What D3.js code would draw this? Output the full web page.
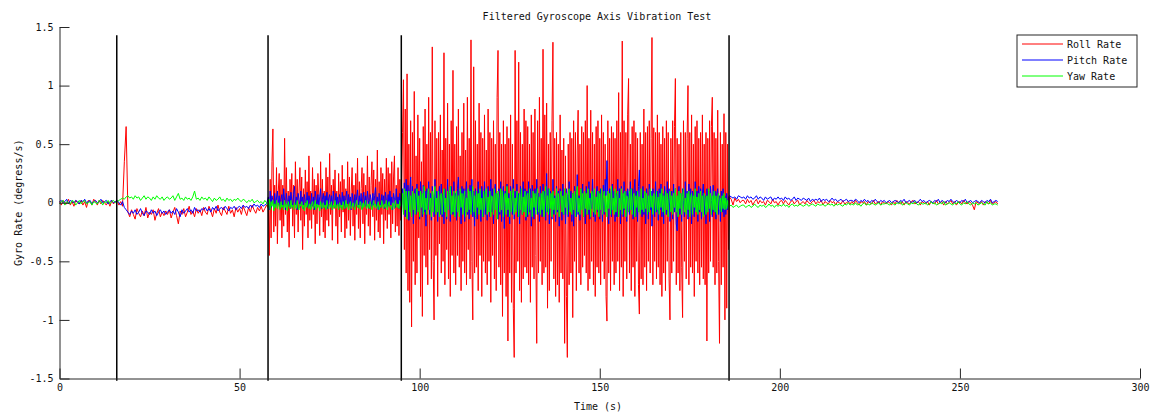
<!DOCTYPE html>
<html>
<head>
<meta charset="utf-8">
<script src="https://cdn.jsdelivr.net/npm/d3@7"></script>
<style>
  body { margin: 0; background: #fff; }
  svg { display: block; }
</style>
</head>
<body>
<svg id="chart" width="1158" height="416"></svg>
<script>
// Logging segments: [start s, end s, step s]. The vibration phases are logged at a finer step.
const sampleSegments = [[0, 58, 0.5], [58, 186, 0.25], [186, 261, 0.5]];

// Roll rate (deg/s)
const rollRate = [
  // 0 - 57.5 s, 0.5 s step
  .01,-.02,.02,0,-.01,.03,-.02,.01,-.03,.02,0,-.01,.02,-.02,.01,-.04,.02,.01,-.02,.03,
  .01,-.02,.02,-.01,.02,0,-.02,.01,-.03,.02,-.01,.01,.02,-.02,.01,-.03,.35,.65,-.08,-.12,
  -.06,-.1,-.14,-.05,-.09,-.12,-.07,-.11,-.04,-.13,-.08,-.1,-.06,-.15,-.09,-.05,-.12,-.08,-.11,-.07,
  -.1,-.06,-.13,-.08,-.04,-.11,-.18,-.07,-.1,-.05,-.12,-.08,-.03,-.1,-.07,-.12,-.05,-.09,-.06,-.11,
  -.04,-.08,-.1,-.03,-.07,-.12,-.05,-.09,-.02,-.08,-.11,-.04,-.07,-.1,-.03,-.09,-.06,-.12,-.04,-.08,
  -.05,-.1,-.03,-.07,-.11,-.04,-.08,-.02,-.06,-.09,-.04,-.07,-.03,-.08,-.05,-.02,
  // 58 - 185.75 s, 0.25 s step
  -.05,-.45,.2,-.3,.35,.63,-.25,.15,-.2,.3,-.35,.1,.25,-.15,.2,-.3,
  .15,-.2,.55,-.1,.3,-.25,.1,-.38,.2,-.05,.25,-.2,.15,-.3,.35,-.1,
  .2,-.25,.1,.3,-.15,.22,-.4,.12,-.2,.28,-.1,.18,-.3,.4,-.15,.1,
  -.22,.3,-.1,.2,-.35,.15,-.18,.25,.05,-.28,.35,-.12,.2,-.25,.1,-.3,
  .3,-.15,.22,-.2,.42,-.1,.15,-.32,.2,-.05,.28,-.2,.1,-.35,.25,-.12,
  .18,-.25,.32,-.08,.2,-.3,.12,-.22,.35,-.15,.22,-.28,.1,.3,-.2,.15,
  -.32,.25,-.1,.38,-.22,.18,-.3,.12,.3,-.18,.25,-.35,.15,-.1,.4,-.2,
  .22,-.28,.15,.35,-.12,.28,-.32,.2,-.15,.45,-.25,.18,-.3,.3,-.1,.25,
  -.35,.2,-.15,.38,-.22,.3,-.1,.25,-.3,.35,-.18,.22,.4,-.25,.15,-.2,
  .3,-.28,.2,-.15,.1,.6,1.05,-.4,.8,-.6,1.1,-.75,.5,-.85,.7,-1.06,
  .6,-.5,.95,-.7,.4,-.6,.75,-.3,.55,-.8,.35,-.97,.65,-.45,.8,-.55,
  .5,-.7,.9,-.4,.6,-.65,1.33,-.5,-1.0,.7,-.45,.55,-.8,.6,-.35,.75,
  -.6,.45,-.5,1.28,-.7,.55,-.4,.85,-.65,.5,-.8,.7,-.45,1.13,-.6,.5,
  -.7,.65,-.45,.8,-.55,.4,-.75,.6,-.5,.85,-.6,.45,-.7,.9,-.4,.55,
  -.65,1.39,-.5,-1.0,1.16,-.6,.7,-.55,.5,-.75,.85,-.45,.6,-.8,.55,-.5,
  .75,-.6,.45,-.7,.8,-.5,.6,-.85,.55,-.45,.7,-.65,.5,-.75,.9,1.3,
  -.55,.6,-.7,.5,-.97,.7,-.6,.5,-.8,.65,-1.18,.55,-.6,.75,-.85,.5,
  -.9,-1.32,1.3,-.6,.7,-.5,1.2,-.75,.6,-.85,.5,-.65,.8,-.55,.7,-.6,
  .65,-.7,.5,-.85,.75,-.55,.6,-.65,.8,-.45,-1.2,.7,-.6,.9,-.5,.55,
  -.7,1.31,-.6,.75,-.55,.85,-.9,.5,-.75,.6,-.5,.7,1.37,-.65,.55,-.8,
  .6,-.7,.5,-.85,.75,-.6,.45,-.65,.55,-1.2,.4,-.8,-1.32,.5,-.7,.6,
  -.6,.55,-.98,.7,-.5,.6,-.75,.45,.79,-.6,.5,-.7,.65,-.55,.6,-.45,
  .7,-.6,1.0,-.75,.55,-.65,.79,-.5,.6,-.7,.5,-.8,.65,-.55,.7,-.6,
  .55,-.7,.75,-.5,.6,-.65,.5,-.8,-1.01,.7,-.6,.55,-.75,.65,-.5,.6,
  -.7,.55,-.6,.7,-.5,.94,-.75,.6,-.55,1.38,-.8,.7,-.5,.6,-.65,.75,
  1.06,-.6,.5,-.75,.65,-.55,.7,-.8,.6,-.5,.55,-.7,-.95,.6,-.65,.5,
  -.7,.8,-.55,.6,-.75,.65,-.5,.7,-.6,.55,1.41,-.7,.64,-.5,.6,-.65,
  .75,-.55,.6,-.7,.5,-.8,.65,-.6,.55,-.75,.7,-.5,.6,-.65,-1.0,.55,
  -.6,.7,-.5,.65,1.06,-.7,.55,-.6,.5,-.75,.6,-.55,-.98,.7,-.5,.6,
  -.65,.55,1.0,-.7,.6,-.55,.75,-.6,.5,-.8,.65,-.5,.7,-.6,.55,-.7,
  .6,-.55,.75,-.65,.5,-.7,.6,-1.18,.55,-.6,.7,-.5,.65,.9,-.55,.6,
  -.7,.55,-.6,.79,-.5,-1.2,.6,-.7,.5,-.55,.76,-1.0,.6,-.9,.5,-.4,
  // 186 - 260.5 s, 0.5 s step
  .05,.03,-.02,.04,.01,.03,0,.02,
  .02,-.01,.03,0,.02,-.02,.01,.03,-.01,.02,0,.01,-.02,.02,.01,-.01,.03,0,.01,-.02,
  .01,.02,-.01,.02,0,-.02,.01,.02,-.01,.01,.02,-.02,0,.01,-.01,.02,0,-.01,.01,.02,
  -.01,.01,0,.02,-.02,.01,0,-.01,.02,0,.01,-.02,.01,0,-.01,.02,-.01,0,.01,-.01,
  .01,-.01,.02,0,-.02,.01,0,.01,-.02,.01,0,-.01,.02,-.01,0,.01,-.02,.01,0,-.01,
  .01,0,-.02,.01,-.01,.02,0,-.01,.01,-.02,.01,0,-.01,.01,.02,-.01,0,.01,-.02,.01,
  0,-.01,.01,-.02,.01,0,-.01,.02,-.01,0,.01,-.02,.01,-.01,0,.02,-.01,.01,-.02,0,
  .01,-.01,.02,0,-.01,.01,0,-.02,-.06,.01,0,-.01,.01,-.02,.01,0,-.01,.02,-.01,0,
  .01,-.01
];

// Pitch rate (deg/s)
const pitchRate = [
  // 0 - 57.5 s
  .01,.02,0,.01,.03,-.01,.02,.01,0,.02,.01,-.01,.02,.01,.03,0,.01,.02,-.01,.01,
  .02,0,.01,.03,0,.01,.02,-.01,.01,.02,0,.01,.02,0,-.02,.01,-.04,-.06,-.08,-.1,
  -.07,-.09,-.06,-.1,-.08,-.05,-.09,-.11,-.07,-.08,-.1,-.06,-.09,-.07,-.11,-.08,-.06,-.09,-.07,-.1,
  -.08,-.06,-.09,-.07,-.1,-.05,-.08,-.12,-.06,-.09,-.07,-.05,-.08,-.06,-.09,-.04,-.07,-.06,-.08,-.05,
  -.06,-.04,-.07,-.05,-.08,-.04,-.06,-.03,-.07,-.05,-.04,-.06,-.03,-.05,-.07,-.04,-.05,-.03,-.06,-.04,
  -.03,-.05,-.02,-.04,-.03,-.05,-.02,-.04,-.01,-.03,-.02,-.04,-.01,-.03,-.02,-.01,
  // 58 - 185.75 s
  .05,-.06,.1,-.04,.06,.02,-.05,.08,-.03,.04,.1,-.02,.06,-.05,.03,.07,
  -.04,.12,.02,-.06,.08,.01,-.03,.06,-.05,.09,.02,-.04,.07,.14,-.02,.05,
  -.06,.08,.03,-.04,.1,-.02,.05,-.05,.07,.01,-.03,.09,-.04,.06,.02,-.05,
  .08,-.03,.05,-.06,.1,.02,-.04,.07,-.02,.05,.12,-.05,.03,.08,-.04,.06,
  -.02,.09,-.05,.04,.07,-.03,.06,-.06,.1,.01,-.04,.08,-.02,.05,-.05,.07,
  .03,-.04,.09,-.02,.06,-.05,.04,.1,-.03,.07,-.01,.05,-.06,.08,.02,-.04,
  .07,-.03,.05,.11,-.04,.06,-.02,.08,-.05,.04,.09,-.03,.06,-.04,.1,.02,
  -.05,.07,.03,-.04,.08,-.02,.06,.13,-.03,.05,-.06,.08,.01,-.04,.07,-.02,
  .06,-.05,.09,.02,-.04,.07,-.03,.1,-.02,.05,-.06,.08,.03,-.04,.12,-.01,
  .05,-.05,.08,-.03,.04,.12,-.08,.17,-.12,.2,-.05,.15,-.15,.1,.22,-.1,
  .14,-.18,.08,.12,-.1,.16,-.06,.1,-.14,.18,.04,-.12,.15,-.08,.1,-.2,
  .12,-.06,.18,-.1,.08,-.15,.14,.04,-.12,.2,-.08,.1,-.16,.06,.14,-.1,
  .16,-.12,.08,-.18,.12,.02,-.14,.2,-.06,.1,-.16,.14,.05,-.1,.18,-.12,
  .08,-.15,.12,.22,-.08,.1,-.18,.14,-.04,.12,-.16,.08,.18,-.1,.06,-.14,
  .15,-.08,.2,-.12,.1,-.2,.12,.04,-.14,.18,-.06,.1,-.16,.14,.02,-.12,
  .18,-.1,.08,-.15,.14,.05,-.12,.2,-.08,.12,-.18,.1,.16,-.06,.08,-.14,
  .12,-.1,.18,-.16,.06,.14,-.22,.1,-.05,.16,-.12,.08,-.18,.14,.04,-.1,
  .2,-.14,.1,-.06,.16,-.12,.08,-.18,.14,.02,-.1,.18,-.08,.12,-.15,.1,
  -.12,.18,-.08,.12,-.2,.15,.05,-.14,.12,-.06,.2,-.1,.08,-.16,.14,.02,
  -.12,.16,-.06,.1,-.15,.25,-.08,.12,-.18,.1,.04,-.14,.2,-.1,.06,-.16,
  .14,-.08,.1,-.2,.12,.02,-.15,.16,-.1,.08,-.18,.12,.05,-.12,.18,-.06,
  .1,-.16,.08,-.2,.14,.04,-.12,.24,-.1,.06,-.15,.12,-.05,.16,-.12,.08,
  -.18,.14,.02,-.1,.18,-.14,.08,-.05,.2,-.12,.1,-.16,.06,.14,-.08,.1,
  -.14,.12,.08,-.16,.15,-.1,.2,.06,.36,-.08,-.18,.12,.04,-.12,.16,-.06,
  .1,-.16,.08,-.12,.2,-.08,.12,-.18,.14,.04,-.12,.18,-.06,.1,-.16,.12,
  .05,-.1,.18,-.06,.12,-.14,.08,.2,-.12,.1,-.16,.14,.28,-.08,.06,-.12,
  .14,-.1,.08,-.18,.12,.02,-.14,.16,-.06,.1,-.2,.12,.04,-.12,.18,-.08,
  .1,-.15,.12,-.06,.16,-.12,.08,-.18,.14,.04,-.1,.18,-.08,.12,-.16,.06,
  .1,-.14,.16,-.08,.12,-.18,-.24,.06,.14,-.1,.08,-.16,.12,.02,-.12,.18,
  -.06,.1,-.14,.16,-.08,.12,-.18,.1,.04,-.12,.18,-.06,.1,-.16,.14,-.08,
  .12,-.14,.08,.16,-.1,.06,-.18,.12,-.06,.1,-.16,.14,.02,-.12,.15,-.08,
  .1,-.14,.08,.12,-.1,.06,-.16,.1,-.08,.12,-.12,.06,-.1,.08,-.06,.04,
  // 186 - 260.5 s
  .06,.05,.04,.05,.03,.06,.05,.04,
  .05,.03,.06,.04,.05,.03,.04,.06,.03,.05,.04,.02,.05,.03,.04,.05,.02,.04,.03,.05,
  .03,.04,.02,.05,.03,.04,.02,.03,.05,.02,.04,.03,.02,.04,.03,.02,.04,.01,.03,.02,
  .03,.02,.04,.01,.03,.02,.03,.01,.02,.04,.02,.03,.01,.02,.03,.01,.02,.03,.01,.02,
  .02,.01,.03,.02,0,.02,.01,.03,.01,.02,0,.02,.01,.03,.01,0,.02,.01,.02,0,
  .01,.02,0,.01,.02,.01,0,.02,.01,.03,0,.01,.02,0,.01,.02,0,.01,.03,.01,
  .02,0,.01,.02,.01,0,.02,.01,.03,0,.02,.01,0,.02,.01,.03,.01,0,.02,.01,
  0,.02,.01,.03,0,.01,.02,0,.01,.02,.01,0,.02,.01,0,.02,.01,.03,0,.01,
  .02,.01
];

// Yaw rate (deg/s)
const yawRate = [
  // 0 - 57.5 s
  -.01,.01,.02,-.02,.01,0,-.01,.02,.01,-.02,0,.02,-.01,.01,.02,-.01,0,.01,-.02,.01,
  0,-.01,.02,.01,-.02,.01,0,.02,-.01,.01,.02,0,.01,.02,.03,.04,.03,.05,.06,.04,
  .05,.03,.06,.04,.05,.02,.04,.06,.03,.05,.04,.02,.05,.03,.06,.04,.03,.05,.02,.04,
  .05,.03,.04,.06,.02,.05,.08,.03,.04,.02,.05,.03,.04,.02,.05,.1,.03,.04,.02,.05,
  .03,.04,.02,.05,.03,.01,.04,.02,.03,.05,.02,.03,.01,.04,.02,.03,.01,.03,.02,.04,
  .02,.01,.03,.02,0,.02,.01,.03,0,.01,.02,0,.01,-.01,.02,0,
  // 58 - 185.75 s
  -.04,.03,-.06,.01,-.03,.02,-.07,-.01,-.04,.02,-.05,0,-.03,-.06,.01,-.04,
  -.02,-.06,.02,-.04,-.01,-.07,.01,-.03,-.05,.02,-.04,-.02,-.06,0,-.03,-.05,
  .02,-.04,-.06,-.01,-.03,.01,-.05,-.02,-.07,0,-.04,.02,-.03,-.05,-.01,-.06,
  -.02,.01,-.05,-.03,.02,-.06,-.01,-.04,-.02,-.07,.01,-.03,-.05,0,-.04,-.02,
  -.06,.02,-.03,-.05,-.01,-.04,.01,-.06,-.02,-.04,.02,-.05,-.03,-.01,-.06,0,
  -.04,-.02,-.06,.01,-.03,-.05,.02,-.04,-.01,-.06,-.02,.01,-.05,-.03,0,-.04,
  -.06,-.01,.02,-.04,-.02,-.05,.01,-.03,-.06,0,-.04,-.02,.02,-.05,-.03,-.01,
  -.05,.01,-.03,-.06,-.02,.02,-.04,-.01,-.05,-.03,.01,-.06,-.02,-.04,.02,-.03,
  -.05,-.01,-.04,.02,-.06,-.02,.01,-.04,-.03,-.06,0,-.02,-.05,.02,-.03,-.04,
  -.01,-.05,.02,-.03,-.02,.08,-.1,.12,-.06,.1,-.14,.04,.1,-.08,.06,-.12,
  .1,-.06,.08,-.1,.04,.12,-.08,.06,-.12,.1,-.04,.08,-.1,.14,-.06,.04,
  -.1,.08,.12,-.06,.04,-.12,.1,-.08,.06,.14,-.1,.04,-.08,.1,-.12,.06,
  .08,-.1,.05,.12,-.08,.04,-.12,.1,-.06,.08,.14,-.1,.06,-.08,.1,-.12,
  .04,.1,-.08,.06,-.12,.12,-.04,.08,-.1,.06,.1,-.12,.04,-.08,.12,-.06,
  .1,-.1,.05,.14,-.08,.06,-.12,.1,-.04,.08,-.1,.12,-.06,.04,-.12,.1,
  -.06,.08,.12,-.1,.05,-.08,.1,-.12,.06,.04,-.1,.12,-.06,.08,-.14,.1,
  .04,-.08,.12,-.06,.1,-.12,.05,.08,-.1,.14,-.06,.04,-.12,.1,-.08,.06,
  .12,-.1,.04,-.08,.1,.06,-.12,.08,-.06,.12,-.1,.05,-.08,.1,-.12,.06,
  .08,-.1,.12,-.06,.04,-.12,.1,-.04,.08,-.1,.06,.12,-.08,.05,-.1,.08,
  -.06,.1,-.12,.04,.14,-.08,.06,-.1,.12,-.05,.08,-.12,.1,-.06,.04,-.1,
  .12,-.06,.08,-.12,.05,.1,-.08,.06,-.1,.12,-.04,.08,-.1,.06,.12,-.08,
  .04,-.1,.08,-.06,.1,-.12,.06,.14,-.08,.04,-.1,.12,-.06,.08,-.12,.1,
  -.05,.08,-.1,.12,-.06,.04,-.12,.1,.06,-.08,.12,-.1,.05,-.06,.1,-.12,
  .08,-.06,.12,-.1,.04,.1,-.08,.06,-.12,.1,-.05,.08,-.1,.14,-.06,.04,
  -.1,.12,-.08,.06,.1,-.12,.04,-.06,.12,-.1,.08,-.05,.1,-.12,.06,.04,
  -.08,.1,-.06,.12,-.1,.05,.08,-.12,.06,-.04,.1,-.08,.05,-.1,.12,-.06,
  .04,-.08,.1,-.05,.08,-.1,.06,-.08,.12,-.04,.06,-.1,.08,.04,-.08,.1,
  -.06,.05,-.1,.08,-.04,.12,-.08,.06,-.1,.1,-.06,.08,-.12,.04,.1,-.08,
  .06,-.1,.08,-.04,.12,-.08,.06,-.12,.1,-.05,.08,-.1,.06,.12,-.08,.04,
  -.1,.08,-.06,.1,-.12,.05,.08,-.1,.06,-.04,.12,-.08,.05,-.1,.08,-.06,
  .1,-.08,.06,-.12,.08,.04,-.1,.06,-.08,.12,-.05,.08,-.1,.06,-.06,.1,
  -.08,.06,-.1,.05,.08,-.06,.04,-.08,.06,-.05,.08,-.06,.04,-.05,.02,-.03,
  // 186 - 260.5 s
  -.03,-.02,-.04,-.03,-.02,-.04,-.03,-.02,
  -.02,-.04,-.03,-.02,-.04,-.03,-.01,-.03,-.04,-.02,-.03,-.02,-.04,-.03,-.01,-.03,-.02,-.04,-.02,-.03,
  -.02,-.03,-.01,-.03,-.02,-.04,-.02,-.01,-.03,-.02,-.03,-.01,-.02,-.03,-.02,-.01,-.03,-.02,-.01,-.02,
  -.03,-.01,-.02,-.02,-.01,-.03,-.02,-.01,-.02,-.01,-.03,-.01,-.02,-.01,-.02,-.03,-.01,-.02,0,-.02,
  -.01,-.02,0,-.02,-.01,-.03,-.01,0,-.02,-.01,-.02,0,-.01,-.02,-.01,0,-.02,-.01,-.01,0,
  -.01,-.02,0,-.01,-.02,0,-.01,.01,-.02,-.01,0,-.01,-.02,0,-.01,.01,-.01,-.02,0,-.01,
  -.01,0,-.02,-.01,.01,-.01,0,-.02,-.01,0,-.01,.01,-.02,-.01,0,-.01,-.02,0,-.01,.01,
  -.01,-.02,0,-.01,.01,-.01,-.02,0,-.01,0,-.02,-.01,0,-.01,-.02,.01,-.01,0,-.02,-.01,
  -.01,-.02
];

// Test phase boundaries (s) and the vertical extent of the marker lines (deg/s)
const phaseMarks = [15.9, 57.9, 94.9, 185.9];
const markSpan = [-1.52, 1.43];

const xTicks = [0, 50, 100, 150, 200, 250, 300];
const yTicks = [-1.5, -1, -0.5, 0, 0.5, 1, 1.5];
const seriesNames = ["Roll Rate", "Pitch Rate", "Yaw Rate"];
const seriesColors = ["#ff0000", "#0000ff", "#00ff00"];
const seriesData = [rollRate, pitchRate, yawRate];

// Sample time stamps for every logged value
const sampleTimes = sampleSegments.flatMap(([a, b, step]) => d3.range(a, b, step));

const font = "'DejaVu Sans Mono', monospace";
const axisColor = "#262626";

const svg = d3.select("#chart");
const x = d3.scaleLinear().domain([0, 300]).range([59.5, 1140]);
const y = d3.scaleLinear().domain([-1.5, 1.5]).range([378.5, 27]);

// Data traces, drawn in order so yaw ends up on top
const line = d3.line()
  .defined((d, i) => i < sampleTimes.length)
  .x((d, i) => x(sampleTimes[i]))
  .y(d => y(d));

svg.append("g").selectAll("path")
  .data(seriesData)
  .join("path")
  .attr("d", line)
  .attr("fill", "none")
  .attr("stroke", (d, i) => seriesColors[i])
  .attr("stroke-width", 1)
  .attr("stroke-linejoin", "round");

// Phase boundary markers
svg.append("g").selectAll("line")
  .data(phaseMarks)
  .join("line")
  .attr("x1", d => x(d)).attr("x2", d => x(d))
  .attr("y1", y(markSpan[0])).attr("y2", y(markSpan[1]))
  .attr("stroke", "#000")
  .attr("stroke-width", 1.5);

// Axes with inward ticks
const xAxis = d3.axisBottom(x).tickValues(xTicks).tickSizeInner(-10).tickSizeOuter(0).tickPadding(5)
  .tickFormat(d3.format("d"));
const yAxis = d3.axisLeft(y).tickValues(yTicks).tickSizeInner(-10).tickSizeOuter(0).tickPadding(6)
  .tickFormat(d => String(d));

const gx = svg.append("g").attr("transform", `translate(0,${y(-1.5)})`).call(xAxis);
const gy = svg.append("g").attr("transform", `translate(${x(0)},0)`).call(yAxis);

[gx, gy].forEach(g => {
  g.selectAll("path, line").attr("stroke", axisColor).attr("stroke-width", 1);
  g.selectAll("text").attr("font-family", font).attr("font-size", 10).attr("fill", "#111");
});

// Title and axis labels
svg.append("text")
  .attr("x", 597).attr("y", 20)
  .attr("text-anchor", "middle")
  .attr("font-family", font).attr("font-size", 10).attr("fill", "#111")
  .text("Filtered Gyroscope Axis Vibration Test");

svg.append("text")
  .attr("x", 598).attr("y", 410)
  .attr("text-anchor", "middle")
  .attr("font-family", font).attr("font-size", 10).attr("fill", "#111")
  .text("Time (s)");

svg.append("text")
  .attr("transform", `translate(22,${y(0)}) rotate(-90)`)
  .attr("text-anchor", "middle")
  .attr("font-family", font).attr("font-size", 10).attr("fill", "#111")
  .text("Gyro Rate (degress/s)");

// Legend
const legend = svg.append("g").attr("transform", "translate(1017,35)");
legend.append("rect")
  .attr("width", 120).attr("height", 52)
  .attr("fill", "#fff").attr("stroke", axisColor).attr("stroke-width", 1);

const entries = legend.selectAll("g.entry")
  .data(seriesNames)
  .join("g")
  .attr("class", "entry")
  .attr("transform", (d, i) => `translate(0,${9 + i * 16})`);

entries.append("line")
  .attr("x1", 5).attr("x2", 46)
  .attr("stroke", (d, i) => seriesColors[i])
  .attr("stroke-width", 1);

entries.append("text")
  .attr("x", 50).attr("y", 4)
  .attr("font-family", font).attr("font-size", 10).attr("fill", "#111")
  .text(d => d);
</script>
</body>
</html>
